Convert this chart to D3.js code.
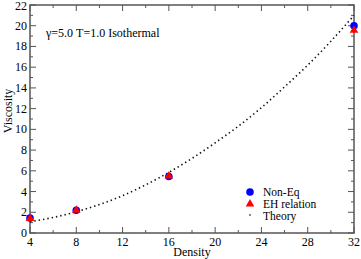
<!DOCTYPE html>
<html lang="en">
<head>
<meta charset="utf-8">
<title>Viscosity vs Density</title>
<script src="https://cdn.jsdelivr.net/npm/d3@7"></script>
<style>
  body { margin: 0; background: #fff; }
</style>
</head>
<body>
<script>
var w = 361, h = 259;
var margin = {left: 30, right: 7, top: 5, bottom: 26};
var serif = "'Liberation Serif', 'Times New Roman', 'DejaVu Serif', serif";

// measured points
var density = [4, 8, 16, 32];
var nonEq = [1.45, 2.2, 5.45, 20.0];
var ehRelation = [1.45, 2.25, 5.55, 19.6];

// theory curve
var theoryDensity = [4, 6, 8, 10, 12, 14, 16, 18, 20, 22, 24, 26, 28, 30, 32];
var theoryVisc = [1.1, 1.5, 2.05, 2.75, 3.6, 4.65, 5.85, 7.2, 8.7, 10.3, 12.1, 14.1, 16.2, 18.5, 21.0];

var xTicks = [4, 8, 12, 16, 20, 24, 28, 32];
var yTicks = [0, 2, 4, 6, 8, 10, 12, 14, 16, 18, 20, 22];
var legendLabels = ["Non-Eq", "EH relation", "Theory"];

var svg = d3.select("body").append("svg").attr("width", w).attr("height", h)
  .attr("font-family", serif);

var x = d3.scaleLinear().domain([4, 32]).range([margin.left, w - margin.right]);
var y = d3.scaleLinear().domain([0, 22]).range([h - margin.bottom, margin.top]);

var frameColor = "#555";

// minor ticks
var xMinor = d3.range(4, 32.01, 2), yMinor = d3.range(0, 22.01, 1);

function ticksInside(g, scale, major, minor, orient) {
  g.selectAll("line.mn").data(minor).enter().append("line")
    .attr("stroke", frameColor).attr("stroke-width", 1)
    .each(function (d) {
      var len = major.indexOf(d) >= 0 ? 6 : 3;
      var s = d3.select(this);
      if (orient === "bottom") s.attr("x1", scale(d)).attr("x2", scale(d)).attr("y1", y(0)).attr("y2", y(0) - len);
      if (orient === "top") s.attr("x1", scale(d)).attr("x2", scale(d)).attr("y1", y(22)).attr("y2", y(22) + len);
      if (orient === "left") s.attr("y1", scale(d)).attr("y2", scale(d)).attr("x1", x(4)).attr("x2", x(4) + len);
      if (orient === "right") s.attr("y1", scale(d)).attr("y2", scale(d)).attr("x1", x(32)).attr("x2", x(32) - len);
    });
}
var tg = svg.append("g");
ticksInside(tg.append("g"), x, xTicks, xMinor, "bottom");
ticksInside(tg.append("g"), x, xTicks, xMinor, "top");
ticksInside(tg.append("g"), y, yTicks, yMinor, "left");
ticksInside(tg.append("g"), y, yTicks, yMinor, "right");

svg.append("rect")
  .attr("x", x(4)).attr("y", y(22))
  .attr("width", x(32) - x(4)).attr("height", y(0) - y(22))
  .attr("fill", "none").attr("stroke", frameColor).attr("stroke-width", 1.5);

// tick labels
svg.selectAll("text.xt").data(xTicks).enter().append("text")
  .attr("x", function (d) { return x(d); })
  .attr("y", y(0) + 13)
  .attr("text-anchor", "middle").attr("font-size", "12px")
  .text(function (d) { return d; });

svg.selectAll("text.yt").data(yTicks).enter().append("text")
  .attr("x", x(4) - 3)
  .attr("y", function (d) { return Math.max(y(d) + 4, 10); })
  .attr("text-anchor", "end").attr("font-size", "12px")
  .text(function (d) { return d; });

svg.append("text").attr("x", x(18)).attr("y", h - 3)
  .attr("text-anchor", "middle").attr("font-size", "12px").text("Density");

svg.append("text")
  .attr("transform", "translate(12," + 111 + ") rotate(-90)")
  .attr("text-anchor", "middle").attr("font-size", "12px").text("Viscosity");

svg.append("text").attr("x", 46).attr("y", 37)
  .attr("font-size", "12px").text("\u03b3=5.0 T=1.0 Isothermal");

// theory dotted curve
var line = d3.line()
  .x(function (d) { return x(d[0]); })
  .y(function (d) { return y(d[1]); })
  .curve(d3.curveMonotoneX);
svg.append("path")
  .datum(d3.zip(theoryDensity, theoryVisc))
  .attr("d", line)
  .attr("fill", "none").attr("stroke", "#111")
  .attr("stroke-width", 1.6).attr("stroke-dasharray", "1.4,3");

var tri = d3.symbol().type(d3.symbolTriangle).size(32);

svg.selectAll("circle.ne").data(d3.zip(density, nonEq)).enter().append("circle")
  .attr("cx", function (d) { return x(d[0]); })
  .attr("cy", function (d) { return y(d[1]); })
  .attr("r", 3.8).attr("fill", "#0000ff");

svg.selectAll("path.eh").data(d3.zip(density, ehRelation)).enter().append("path")
  .attr("d", tri)
  .attr("transform", function (d) { return "translate(" + x(d[0]) + "," + (y(d[1]) + 0.5) + ")"; })
  .attr("fill", "#ff0000");

// legend
var lg = svg.append("g");
lg.append("circle").attr("cx", 250).attr("cy", 192).attr("r", 3.8).attr("fill", "#0000ff");
lg.append("path").attr("d", tri).attr("transform", "translate(250,204)").attr("fill", "#ff0000");
lg.append("rect").attr("x", 249.3).attr("y", 214.3).attr("width", 1.4).attr("height", 1.4).attr("fill", "#111");
lg.selectAll("text").data(legendLabels).enter().append("text")
  .attr("x", 263)
  .attr("y", function (d, i) { return 196 + i * 12; })
  .attr("font-size", "11.5px")
  .text(function (d) { return d; });
</script>
</body>
</html>
